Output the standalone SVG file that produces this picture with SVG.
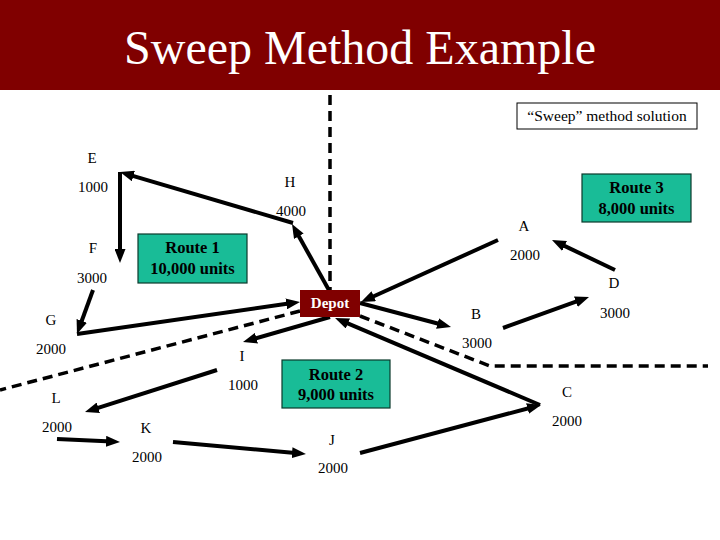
<svg xmlns="http://www.w3.org/2000/svg" width="720" height="540" viewBox="0 0 720 540">
<style>
.lbl{font-family:"Liberation Serif","Times New Roman",serif;font-size:15px;fill:#000;text-anchor:middle}
.rt{font-family:"Liberation Serif","Times New Roman",serif;font-size:16.5px;font-weight:bold;fill:#000;text-anchor:middle}
.box{fill:#19BC97;stroke:#0a3a2c;stroke-width:1.2}
.arr{stroke:#000;stroke-width:4;fill:none;marker-end:url(#ah)}
.dash{stroke:#000;stroke-width:3.5;fill:none;stroke-dasharray:10 6}
</style>
<defs>
<marker id="ah" markerUnits="userSpaceOnUse" markerWidth="14" markerHeight="11" refX="6" refY="5.5" orient="auto">
<path d="M0,0 L14,5.5 L0,11 z" fill="#000"/>
</marker>
</defs>
<rect x="0" y="0" width="720" height="540" fill="#fff"/>
<g id="header">
<rect x="0" y="0" width="720" height="90" fill="#800000"/>
<text x="360" y="64" font-family="Liberation Serif,'Times New Roman',serif" font-size="48" fill="#fff" text-anchor="middle">Sweep Method Example</text>
</g>
<g id="legend">
<rect x="517" y="103" width="180" height="26" fill="#fff" stroke="#000" stroke-width="1"/>
<text x="607" y="121" font-family="Liberation Serif,'Times New Roman',serif" font-size="15.5" text-anchor="middle">“Sweep” method solution</text>
</g>
<g id="connectors">
<line class="dash" x1="330" y1="95" x2="330" y2="290"/>
<line class="dash" x1="300" y1="311" x2="0" y2="390"/>
<polyline class="dash" points="360,316 490,366 708,366"/>
<line class="arr" x1="330" y1="292" x2="295.9" y2="231"/>
<line class="arr" x1="293" y1="223" x2="127.7" y2="174.3"/>
<line class="arr" x1="120" y1="172" x2="120" y2="255"/>
<line class="arr" x1="93" y1="290" x2="79.7" y2="326.5"/>
<line class="arr" x1="77" y1="334" x2="292.1" y2="303.1"/>
<line class="arr" x1="330" y1="317" x2="250.7" y2="339.8"/>
<line class="arr" x1="217" y1="370" x2="92.6" y2="409.6"/>
<line class="arr" x1="57" y1="439" x2="112" y2="441.6"/>
<line class="arr" x1="173" y1="442" x2="298" y2="453.3"/>
<line class="arr" x1="360" y1="453" x2="533.3" y2="407"/>
<line class="arr" x1="540" y1="405" x2="342.4" y2="321.1"/>
<line class="arr" x1="360" y1="303" x2="443.3" y2="325"/>
<line class="arr" x1="503" y1="328" x2="581.5" y2="299.7"/>
<line class="arr" x1="615" y1="270" x2="559.2" y2="243.4"/>
<line class="arr" x1="498" y1="240" x2="368.3" y2="298.7"/>
</g>
<g id="depot">
<rect x="300" y="290" width="60" height="27" fill="#800000"/>
<text x="330" y="308" font-family="Liberation Serif,'Times New Roman',serif" font-size="15" font-weight="bold" fill="#fff" text-anchor="middle">Depot</text>
</g>
<g id="route1">
<rect class="box" x="138" y="234" width="109" height="49"/>
<text class="rt" x="192.5" y="253">Route 1</text>
<text class="rt" x="192.5" y="274">10,000 units</text>
</g>
<g id="route2">
<rect class="box" x="282" y="360" width="108" height="48"/>
<text class="rt" x="336" y="380">Route 2</text>
<text class="rt" x="336" y="400">9,000 units</text>
</g>
<g id="route3">
<rect class="box" x="582" y="174" width="109" height="48"/>
<text class="rt" x="636.5" y="193">Route 3</text>
<text class="rt" x="636.5" y="214">8,000 units</text>
</g>
<g id="nodeE"><text class="lbl" x="92" y="163">E</text><text class="lbl" x="93" y="192">1000</text></g>
<g id="nodeH"><text class="lbl" x="290" y="187">H</text><text class="lbl" x="291" y="216">4000</text></g>
<g id="nodeF"><text class="lbl" x="93" y="253">F</text><text class="lbl" x="92" y="283">3000</text></g>
<g id="nodeG"><text class="lbl" x="51" y="325">G</text><text class="lbl" x="51" y="354">2000</text></g>
<g id="nodeI"><text class="lbl" x="242" y="361">I</text><text class="lbl" x="243" y="390">1000</text></g>
<g id="nodeL"><text class="lbl" x="56" y="403">L</text><text class="lbl" x="57" y="432">2000</text></g>
<g id="nodeK"><text class="lbl" x="146" y="433">K</text><text class="lbl" x="147" y="462">2000</text></g>
<g id="nodeJ"><text class="lbl" x="332" y="445">J</text><text class="lbl" x="333" y="473">2000</text></g>
<g id="nodeC"><text class="lbl" x="567" y="397">C</text><text class="lbl" x="567" y="426">2000</text></g>
<g id="nodeB"><text class="lbl" x="476" y="319">B</text><text class="lbl" x="477" y="348">3000</text></g>
<g id="nodeD"><text class="lbl" x="614" y="288">D</text><text class="lbl" x="615" y="318">3000</text></g>
<g id="nodeA"><text class="lbl" x="524" y="231">A</text><text class="lbl" x="525" y="260">2000</text></g>
</svg>
